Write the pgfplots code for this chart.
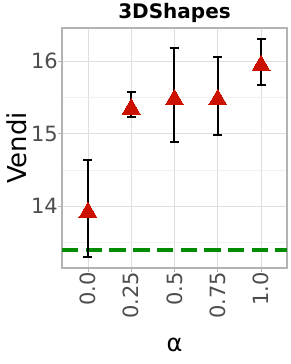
\documentclass[border=0pt]{standalone}
\usepackage{pgfplots}
\pgfplotsset{compat=1.18}
\usepackage{pgfplotstable}
\usepackage{fontspec}
\setmainfont{DejaVu Sans}
\definecolor{ptred}{HTML}{CC1100}
\definecolor{ptgreen}{HTML}{008B00}
\definecolor{gridmaj}{HTML}{DEDEDE}
\definecolor{gridmin}{HTML}{F0F0F0}
\definecolor{bord}{HTML}{B3B3B3}
\definecolor{ticklab}{HTML}{4D4D4D}

\pgfplotstableread{
x y ep em
0 13.91 0.72 0.61
1 15.34 0.24 0.11
2 15.47 0.71 0.58
3 15.47 0.59 0.49
4 15.94 0.37 0.27
}\data

\begin{document}
\begin{tikzpicture}
\useasboundingbox (0,0) rectangle (291pt,364pt);
\begin{axis}[
  at={(62pt,96pt)}, anchor=south west,
  scale only axis, width=225pt, height=240pt,
  xmin=-0.6, xmax=4.6, ymin=13.143, ymax=16.46,
  xtick={0,1,2,3,4}, xticklabels={0.0,0.25,0.5,0.75,1.0},
  ytick={14,15,16},
  minor ytick={13.5,14.5,15.5},
  minor tick length=0pt,
  xtick pos=bottom, ytick pos=left,
  tick align=outside, major tick length=4pt,
  tick style={bord, line width=0.9pt},
  axis line style={bord, line width=1.1pt},
  grid=both,
  major grid style={gridmaj, line width=0.9pt},
  minor grid style={gridmin, line width=0.5pt},
  /pgf/number format/assume math mode=true,
  tick label style={font=\fontsize{21}{21}\selectfont, text=ticklab, inner sep=0pt},
  xticklabel style={rotate=90, anchor=east},
  yticklabel style={anchor=east},
  title={\bfseries 3DShapes},
  title style={font=\fontsize{20}{20}\selectfont, at={(axis description cs:0.5,1.0125)}, anchor=base, inner sep=0pt},
  ylabel={Vendi},
  ylabel style={font=\fontsize{26}{26}\selectfont, at={(axis description cs:-0.2,0.5)}, anchor=center, rotate=0, inner sep=0pt},
  xlabel={α},
  xlabel style={font=\fontsize{24}{24}\selectfont, at={(axis description cs:0.5,-0.321)}, anchor=center, inner sep=0pt},
]
\addplot[ptgreen, line width=4.5pt, dash pattern=on 16.5pt off 7.2pt, forget plot] coordinates {(-0.6,13.39) (4.6,13.39)};
\addplot[only marks, mark=triangle*, mark size=10.4pt, mark options={fill=ptred, draw=ptred, line width=0pt}] table[x=x, y=y] {\data};
\addplot[draw=none, mark=none, forget plot,
  error bars/.cd, y dir=both, y explicit,
  error bar style={draw=black, line width=2pt},
  error mark options={draw=black, line width=2pt, mark size=4.5pt, rotate=90}]
  table[x=x, y=y, y error plus=ep, y error minus=em] {\data};
\end{axis}
\end{tikzpicture}
\end{document}
